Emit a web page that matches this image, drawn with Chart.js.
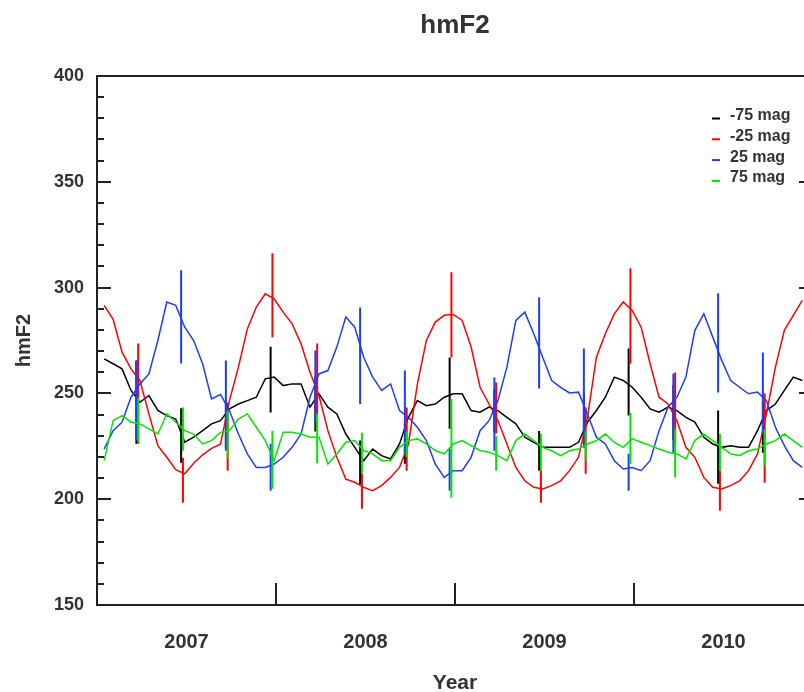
<!DOCTYPE html>
<html>
<head>
<meta charset="utf-8">
<title>hmF2</title>
<script src="https://cdn.jsdelivr.net/npm/chart.js@4.4.1/dist/chart.umd.min.js"></script>
<style>
  html, body { margin:0; padding:0; background:#fff; overflow:hidden; }
  #wrap { width:813px; height:692px; }
</style>
</head>
<body>
<div id="wrap"><canvas id="chart" width="813" height="692"></canvas></div>
<script>
// ===== Data =====
const titleText = 'hmF2';
const xTitle = 'Year';
const yTitle = 'hmF2';
const yearLabels = ['2007', '2008', '2009', '2010'];
const yearTicks = [2008, 2009, 2010];
const seriesNames = ['-75 mag', '-25 mag', '25 mag', '75 mag'];

const times = [
  2007.04, 2007.09, 2007.14, 2007.19, 2007.24, 2007.29, 2007.34, 2007.39, 2007.44, 2007.49,
  2007.54, 2007.59, 2007.64, 2007.69, 2007.74, 2007.79, 2007.84, 2007.89, 2007.94, 2007.99,
  2008.04, 2008.09, 2008.14, 2008.19, 2008.24, 2008.29, 2008.34, 2008.39, 2008.44, 2008.49,
  2008.54, 2008.59, 2008.64, 2008.69, 2008.74, 2008.79, 2008.84, 2008.89, 2008.94, 2008.99,
  2009.04, 2009.09, 2009.14, 2009.19, 2009.24, 2009.29, 2009.34, 2009.39, 2009.44, 2009.49,
  2009.54, 2009.59, 2009.64, 2009.69, 2009.74, 2009.79, 2009.84, 2009.89, 2009.94, 2009.99,
  2010.04, 2010.09, 2010.14, 2010.19, 2010.24, 2010.29, 2010.34, 2010.39, 2010.44, 2010.49,
  2010.54, 2010.59, 2010.64, 2010.69, 2010.74, 2010.79, 2010.84, 2010.89, 2010.94
];

const m75 = [
  266.3, 264, 261.6, 251.4, 245.8, 249, 242, 239.5, 237.9, 227,
  229.3, 232.4, 235.6, 237.1, 242.7, 245, 246.6, 248.2, 256.9, 257.7,
  253.7, 254.5, 254.5, 243.5, 249.8, 243.5, 240.3, 230.8, 224.5, 218.2,
  223.7, 220.6, 219, 226.1, 238.7, 246.6, 244.2, 245, 248.2, 249.8,
  249.8, 241.9, 241.1, 243.5, 241.9, 238.7, 235.6, 229.3, 226.9, 224.5,
  224.5, 224.5, 224.5, 226.9, 236.4, 241.9, 248.2, 257.7, 256.1, 252.9,
  248.2, 242.7, 241.1, 243.5, 241.9, 238.7, 236.4, 229.3, 226.1, 224.5,
  225.3, 224.5, 224.5, 232.4, 241.9, 245, 251.4, 257.7, 256.1
];
const m25 = [
  291.6, 285, 269.5, 261.6, 256, 240.3, 225.3, 219.8, 214, 212,
  217, 221, 224, 226, 246.6, 262.4, 280.5, 290.8, 297.1, 294.7,
  288.4, 282.9, 273.4, 260, 249, 232.4, 219.8, 209.5, 208, 205.6,
  204, 206.4, 210.3, 215, 226.1, 254.5, 275, 283.7, 286.9, 287.3,
  284.5, 271.9, 252.9, 245, 237.1, 226.1, 215, 208.7, 205.6, 204.8,
  206.4, 208.7, 213.5, 219.8, 238.7, 267.1, 278.2, 287.6, 293.2, 289.2,
  281.3, 264, 248.2, 245, 237.1, 224.5, 219.8, 210.3, 205.6, 204.8,
  206.4, 208.7, 213.5, 221.4, 240.3, 262.4, 279.8, 286.9, 294
];
const p25 = [
  223.7, 232.4, 236.4, 248.2, 254.5, 259.2, 275, 293.2, 291.6, 281.3,
  275, 264, 247.4, 249.5, 241.9, 230.8, 221.4, 215, 215, 216.6,
  219.8, 224.5, 230.8, 248.2, 259.2, 260.8, 272, 286.1, 281.3, 267.1,
  257.7, 251.4, 254.5, 241.9, 238.7, 234, 227.7, 216.6, 210.3, 213.5,
  213.5, 219.8, 232.4, 237.1, 246.6, 262.4, 284.5, 288.4, 278.2, 267.1,
  256.1, 252.9, 250.2, 250.6, 240.3, 229.3, 226.1, 218.2, 214.3, 215,
  213.5, 218.2, 232.4, 243.5, 248.2, 257.7, 279.8, 287.6, 276.6, 265.6,
  256.1, 252.9, 249.8, 250.6, 246.6, 234, 225.3, 218.2, 215
];
const p75 = [
  218.2, 237.1, 239.5, 236.4, 235.6, 233.2, 230.8, 240.3, 236.4, 232.4,
  230.8, 226.1, 227.7, 231.6, 232.4, 237.9, 240.3, 234, 227.7, 218.2,
  231.6, 231.6, 230.8, 229.3, 229.3, 216.6, 221.4, 226.9, 227.7, 223,
  221.4, 218.2, 218.2, 224.5, 227.7, 228.5, 226.1, 223, 221.4, 226.1,
  227.7, 225.3, 223, 222.2, 220.6, 218.2, 227.7, 230.8, 227.7, 224.5,
  222.9, 220.6, 222.9, 223.7, 226.1, 227.7, 230.8, 226.9, 224.5, 228.5,
  226.9, 225.3, 223.7, 222.2, 221.4, 219, 227.7, 230.8, 227.7, 224.5,
  221.4, 220.6, 222.9, 223.7, 226.1, 227.7, 230.8, 227.7, 224.5
];

// seasonal spread bars (equinox / solstice)
const barTimesA = [2007.22, 2007.47, 2007.72, 2007.97, 2008.22, 2008.47, 2008.72, 2008.97,
                   2009.22, 2009.47, 2009.72, 2009.97, 2010.22, 2010.47, 2010.72];
const barTimesB = [2007.23, 2007.48, 2007.73, 2007.98, 2008.23, 2008.48, 2008.73, 2008.98,
                   2009.23, 2009.48, 2009.73, 2009.98, 2010.23, 2010.48, 2010.73];

const m75Lo = [226.2, 217.2, 224, 241, 232, 207, 216.8, 233.3, 232, 213.5, 226, 239.5, 228, 207.3, 222];
const m75Hi = [265.5, 243, 245, 272, 258, 227.7, 235.7, 267, 252, 232.2, 250, 271.2, 254, 241.9, 246];
const m25Lo = [226.2, 198.3, 213.5, 276.5, 240, 195.5, 213.5, 267, 231, 198.3, 212, 264, 226.2, 194.5, 207.8];
const m25Hi = [273.6, 219.6, 245.7, 316.2, 273.6, 212, 243.3, 307.2, 255.1, 213.5, 243.3, 309.1, 259.9, 213.5, 249.9];
const p25Lo = [227.7, 264.1, 222.9, 204, 236.2, 245, 221.5, 204, 222.9, 252.3, 224.3, 204, 222, 250.4, 231];
const p25Hi = [265.5, 308.2, 265.5, 226.2, 270.3, 290.6, 260.8, 223.9, 257.5, 295.4, 271.2, 221.5, 259.4, 297.3, 269.3];
const p75Lo = [227, 222.9, 219.6, 204.9, 217, 212, 220, 200.7, 213.5, 213.5, 218.2, 216.8, 210.2, 213.5, 215.8];
const p75Hi = [248, 243.3, 241.8, 232.2, 240.4, 231.4, 232, 247.5, 230, 230.8, 232.4, 240.9, 233.3, 230.8, 233.1];

// ===== Style =====
const FONT = '"Liberation Sans", Arial, Helvetica, sans-serif';
const TEXT = '#333';
const COLORS = ['rgb(0,0,0)', 'rgb(255,0,0)', 'rgb(30,60,255)', 'rgb(0,230,0)'];

const toPts = (ys) => times.map((t, i) => ({ x: t, y: ys[i] }));
function barPts(ts, lo, hi) {
  const pts = [];
  ts.forEach((t, i) => { pts.push({ x: t, y: lo[i] }, { x: t, y: hi[i] }, { x: t, y: null }); });
  return pts;
}

const lines = [m75, m25, p25, p75];
const bars = [
  barPts(barTimesA, m75Lo, m75Hi),
  barPts(barTimesB, m25Lo, m25Hi),
  barPts(barTimesA, p25Lo, p25Hi),
  barPts(barTimesB, p75Lo, p75Hi)
];

const datasets = [];
lines.forEach((ys, k) => {
  datasets.push({ label: seriesNames[k], data: toPts(ys), borderColor: COLORS[k], borderWidth: 1.5,
    pointRadius: 0, tension: 0, order: 3 - k });
  datasets.push({ label: seriesNames[k] + ' spread', data: bars[k], borderColor: COLORS[k], borderWidth: 2,
    pointRadius: 0, spanGaps: false, order: 3 - k });
});

// frame, inward ticks, title and legend drawn on top of the library scales
const decor = {
  id: 'decor',
  afterDatasetsDraw(chart) {
    const { ctx, chartArea: a, scales: { x, y } } = chart;
    ctx.save();
    ctx.strokeStyle = '#222';
    ctx.lineWidth = 2;
    ctx.beginPath();
    ctx.moveTo(a.left, a.top); ctx.lineTo(a.left, a.bottom);
    ctx.lineTo(a.right, a.bottom); ctx.lineTo(a.right, a.top); ctx.closePath();
    for (let v = 150; v <= 400; v += 10) {
      const py = Math.round(y.getPixelForValue(v));
      const len = v % 50 === 0 ? 14 : 7;
      ctx.moveTo(a.left, py); ctx.lineTo(a.left + len, py);
      ctx.moveTo(a.right, py); ctx.lineTo(a.right - len, py);
    }
    yearTicks.forEach(yr => {
      const px = Math.round(x.getPixelForValue(yr));
      ctx.moveTo(px, a.bottom); ctx.lineTo(px, a.bottom - 22);
    });
    ctx.stroke();

    // title
    ctx.fillStyle = TEXT;
    ctx.font = 'bold 26px ' + FONT;
    ctx.textAlign = 'center';
    ctx.textBaseline = 'middle';
    ctx.fillText(titleText, (a.left + a.right) / 2, 26);

    // legend
    ctx.font = 'bold 16px ' + FONT;
    ctx.textAlign = 'left';
    ctx.textBaseline = 'alphabetic';
    seriesNames.forEach((name, k) => {
      const base = a.top + 44 + k * 20.8;
      ctx.strokeStyle = COLORS[k];
      ctx.lineWidth = 2;
      ctx.beginPath();
      ctx.moveTo(a.right - 101, base - 1.5); ctx.lineTo(a.right - 93, base - 1.5);
      ctx.stroke();
      ctx.fillText(name, a.right - 83, base);
    });
    ctx.restore();
  }
};

new Chart(document.getElementById('chart'), {
  type: 'line',
  data: { datasets },
  options: {
    responsive: false, animation: false,
    layout: { padding: { top: 76, right: 0, left: 0, bottom: 0 } },
    plugins: { legend: { display: false }, tooltip: { enabled: false } },
    scales: {
      x: {
        type: 'linear', min: 2007, max: 2011,
        grid: { display: false }, border: { display: false },
        afterBuildTicks: s => { s.ticks = yearLabels.map(l => ({ value: Number(l) + 0.5 })); },
        afterFit: s => { s.height = 87; },
        ticks: { autoSkip: false, maxRotation: 0, padding: 17, color: TEXT,
          font: { family: FONT, size: 20, weight: 'bold' },
          callback: v => String(Math.floor(v)) },
        title: { display: true, text: xTitle, color: TEXT, padding: { top: 0, bottom: 0 },
          font: { family: FONT, size: 21, weight: 'bold', lineHeight: 0.8 } }
      },
      y: {
        min: 150, max: 400,
        grid: { display: false }, border: { display: false },
        afterFit: s => { s.width = 97; },
        ticks: { stepSize: 50, padding: 5, color: TEXT,
          font: { family: FONT, size: 18, weight: 'bold' } },
        title: { display: true, text: yTitle, color: TEXT, padding: { top: 12, bottom: 0 },
          font: { family: FONT, size: 20, weight: 'bold' } }
      }
    }
  },
  plugins: [decor]
});
</script>
</body>
</html>
